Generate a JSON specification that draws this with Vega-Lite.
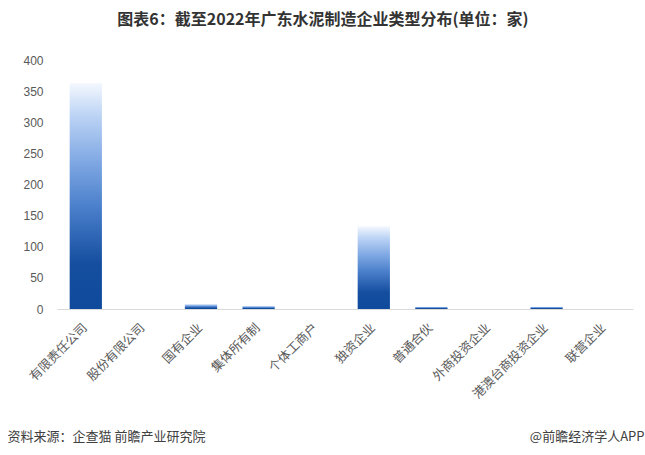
{
  "$schema": "https://vega.github.io/schema/vega-lite/v6.json",
  "autosize": {"type": "none"},
  "width": 576,
  "height": 249,
  "padding": {"left": 57, "top": 60, "right": 12, "bottom": 146},
  "background": "white",
  "title": {
    "text": "图表6：截至2022年广东水泥制造企业类型分布(单位：家)",
    "font": "Noto Sans CJK SC",
    "fontSize": 16,
    "fontWeight": "bold",
    "color": "#333333",
    "anchor": "middle",
    "dx": -22,
    "baseline": "middle",
    "offset": 18
  },
  "data": {
    "values": [
      {"type": "有限责任公司", "count": 363},
      {"type": "股份有限公司", "count": 0},
      {"type": "国有企业", "count": 8},
      {"type": "集体所有制", "count": 5},
      {"type": "个体工商户", "count": 0},
      {"type": "独资企业", "count": 133},
      {"type": "普通合伙", "count": 4},
      {"type": "外商投资企业", "count": 0},
      {"type": "港澳台商投资企业", "count": 4},
      {"type": "联营企业", "count": 0}
    ]
  },
  "config": {
    "view": {"stroke": null},
    "axis": {"grid": false}
  },
  "resolve": {"axis": {"y": "independent"}},
  "layer": [
    {
      "mark": {
        "type": "bar",
        "color": {
          "gradient": "linear",
          "x1": 0, "y1": 1, "x2": 0, "y2": 0,
          "stops": [
            {"offset": 0, "color": "#0f4a9c"},
            {"offset": 0.2, "color": "#154e9f"},
            {"offset": 0.45, "color": "#4a7fcb"},
            {"offset": 0.65, "color": "#7fa8e3"},
            {"offset": 0.85, "color": "#bad2f4"},
            {"offset": 1, "color": "#f4f8fe"}
          ]
        }
      },
      "encoding": {
        "x": {
          "field": "type",
          "type": "nominal",
          "sort": null,
          "scale": {"paddingInner": 0.44, "paddingOuter": 0.22},
          "axis": {
            "title": "资料来源：企查猫 前瞻产业研究院",
            "titleFont": "Noto Sans CJK SC",
            "titleFontSize": 13,
            "titleFontWeight": "normal",
            "titleColor": "#404040",
            "titleAnchor": "start",
            "titleAlign": "left",
            "titleBaseline": "middle",
            "titleX": -50,
            "titleY": 127,
            "labelAngle": -45,
            "labelAlign": "right",
            "labelBaseline": "top",
            "labelPadding": 12,
            "labelOffset": -5,
            "labelFont": "Noto Sans CJK SC",
            "labelFontSize": 12.5,
            "labelColor": "#595959",
            "labelOverlap": false,
            "ticks": false,
            "domainColor": "#d9d9d9",
            "domainWidth": 1
          }
        },
        "y": {
          "field": "count",
          "type": "quantitative",
          "scale": {"domain": [0, 400], "nice": false},
          "axis": {
            "title": null,
            "values": [0, 50, 100, 150, 200, 250, 300, 350, 400],
            "labelFont": "Liberation Sans",
            "labelFontSize": 12,
            "labelColor": "#595959",
            "labelPadding": 14,
            "ticks": false,
            "tickSize": 0,
            "domain": false
          }
        }
      }
    },
    {
      "mark": {"type": "rule", "opacity": 0},
      "encoding": {
        "y": {
          "field": "count",
          "type": "quantitative",
          "axis": {
            "orient": "right",
            "title": "@前瞻经济学人APP",
            "titleFont": "Noto Sans CJK SC",
            "titleFontSize": 13,
            "titleFontWeight": "normal",
            "titleColor": "#404040",
            "titleAngle": 0,
            "titleAlign": "right",
            "titleBaseline": "middle",
            "titleX": 11,
            "titleY": 376,
            "labels": false,
            "ticks": false,
            "domain": false
          }
        }
      }
    }
  ]
}
